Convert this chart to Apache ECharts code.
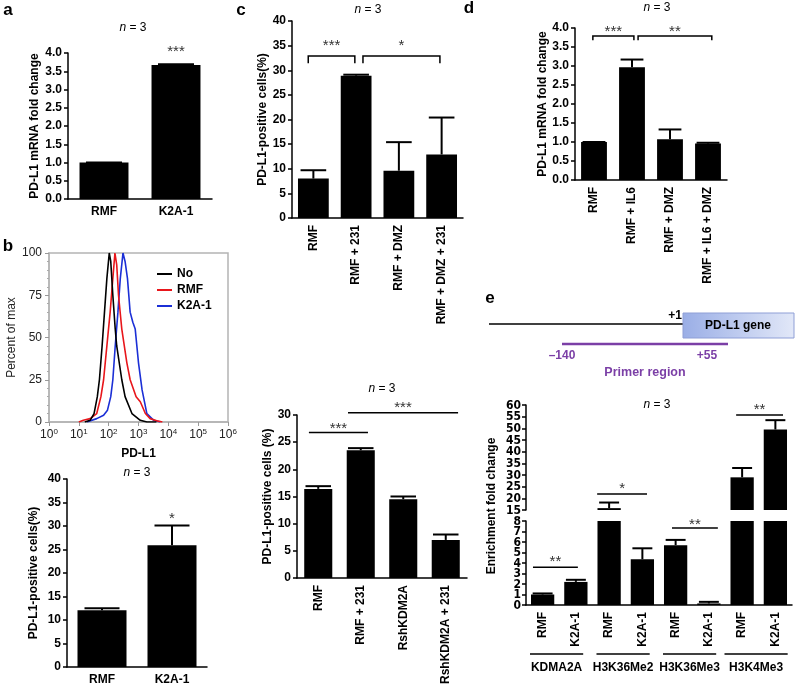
<!DOCTYPE html>
<html><head><meta charset="utf-8">
<script src="https://cdn.jsdelivr.net/npm/echarts@6/dist/echarts.min.js"></script>
<style>html,body{margin:0;padding:0;background:#fff}#c{width:799px;height:687px}</style>
</head><body><div id="c"></div>
<script>
const FONT = "'Liberation Sans', Arial, Helvetica, sans-serif";
const NARROW = "'Liberation Sans Narrow', 'DejaVu Sans Condensed', 'Liberation Sans', sans-serif";

// ---- panel a
const aCats = ['RMF', 'K2A-1'];
const aVals = [1.0, 3.67];
const aErr = [1.0, 3.69];
const aStars = [[1, 4.14, '***']];

// ---- panel b histogram (x = log10 PD-L1 intensity, y = percent of max)
const hNoX = [1.2, 1.38, 1.51, 1.62, 1.69, 1.78, 1.86, 1.94, 2.02, 2.07, 2.14, 2.22, 2.27, 2.44, 2.55, 2.78, 3.06, 3.28, 3.6];
const hNoY = [0, 1, 5, 15, 25, 45, 65, 85, 100, 95, 75, 55, 45, 25, 15, 5, 1, 0, 0];
const hRmfX = [1.0, 1.15, 1.38, 1.6, 1.74, 1.83, 1.94, 2.05, 2.14, 2.21, 2.27, 2.33, 2.44, 2.61, 2.72, 2.92, 3.06, 3.23, 3.39, 3.66, 3.8];
const hRmfY = [0, 1, 2, 5, 15, 25, 45, 65, 85, 100, 93, 75, 55, 35, 25, 15, 12, 5, 2, 0.5, 0];
const hK2aX = [1.27, 1.6, 1.83, 1.96, 2.07, 2.14, 2.22, 2.31, 2.39, 2.48, 2.55, 2.63, 2.72, 2.81, 2.89, 3.0, 3.12, 3.28, 3.51, 3.73];
const hK2aY = [0, 2, 4, 7, 15, 25, 45, 65, 85, 100, 95, 85, 65, 59, 55, 35, 19, 5, 1, 0];

// ---- panel b bars
const bCats = ['RMF', 'K2A-1'];
const bVals = [12.1, 25.9];
const bErr = [12.5, 30.1];
const bStars = [[1, 32.3, '*']];

// ---- panel c top
const cCats = ['RMF', 'RMF + 231', 'RMF + DMZ', 'RMF + DMZ + 231'];
const cVals = [8.0, 28.9, 9.6, 12.9];
const cErr = [9.7, 29.1, 15.4, 20.4];
// [from, to, level, legEnd, starLevel, label]
const cBrackets = [[-0.12, 0.97, 32.9, 31.4, 35.7, '***'], [1.16, 2.96, 32.9, 31.4, 35.7, '*']];

// ---- panel c bottom
const c2Cats = ['RMF', 'RMF + 231', 'RshKDM2A', 'RshKDM2A + 231'];
const c2Vals = [16.4, 23.5, 14.5, 7.0];
const c2Err = [16.9, 23.9, 15.0, 8.0];
const c2Lines = [[-0.22, 1.17, 26.8, null, 28.2, '***'], [0.70, 3.29, 30.4, null, 32.0, '***']];

// ---- panel d
const dCats = ['RMF', 'RMF + IL6', 'RMF + DMZ', 'RMF + IL6 + DMZ'];
const dVals = [1.0, 2.97, 1.07, 0.96];
const dErr = [1.0, 3.17, 1.33, 0.98];
const dBrackets = [[-0.03, 1.05, 3.79, 3.68, 4.0, '***'], [1.16, 3.1, 3.79, 3.68, 4.0, '**']];

// ---- panel e
const eCats = ['RMF', 'K2A-1', 'RMF', 'K2A-1', 'RMF', 'K2A-1', 'RMF', 'K2A-1'];
const eGroups = ['KDMA2A', 'H3K36Me2', 'H3K36Me3', 'H3K4Me3'];
const eVals = [1.0, 2.2, 15.8, 4.35, 5.7, 0.15, 29, 49.5];
const eErr = [1.1, 2.4, 18.2, 5.4, 6.2, 0.3, 33, 53.5];
const eUpTicks = [15, 20, 25, 30, 35, 40, 45, 50, 55, 60];
const eLowTicks = [0, 1, 2, 3, 4, 5, 6, 7, 8];
const eLinesLow = [[-0.29, 1.06, 3.6, null, 4.5, '**'], [3.89, 5.27, 7.33, null, 8.0, '**']];
const eLinesUp = [[1.64, 3.14, 21.9, null, 25.7, '*'], [5.82, 7.23, 55.7, null, 59.6, '**']];

// ---------- helpers
function xAt(api, x, y) {
  const i = Math.round(x);
  const p = api.coord([i, y]);
  const bw = api.size([1, 0])[0];
  return [p[0] + (x - i) * bw, p[1]];
}
const starStyle = { fill: '#333', font: '15px ' + FONT, align: 'center', verticalAlign: 'middle', textAlign: 'center', textVerticalAlign: 'middle' };

function catX(grid, cats, rotate, show) {
  return {
    type: 'category', gridIndex: grid, data: cats, show: show !== false,
    axisLine: { lineStyle: { color: '#000', width: 1.5 } },
    axisTick: { alignWithLabel: true, length: 4, lineStyle: { color: '#000', width: 1.5 } },
    axisLabel: { interval: 0, rotate: rotate || 0, margin: 7, color: '#000', fontFamily: FONT, fontWeight: 'bold', fontSize: 12 },
    splitLine: { show: false }
  };
}
function valY(grid, min, max, interval, name, nameGap, dec, noLabels) {
  return {
    type: 'value', gridIndex: grid, min: min, max: max, interval: interval,
    name: name || '', nameLocation: 'middle', nameGap: nameGap || 30,
    nameTextStyle: { color: '#000', fontFamily: FONT, fontWeight: 'bold', fontSize: 12 },
    axisLine: { show: true, lineStyle: { color: '#000', width: 1.5 } },
    axisTick: { show: true, length: 4, lineStyle: { color: '#000', width: 1.5 } },
    axisLabel: {
      show: !noLabels,
      margin: 6, color: '#000', fontFamily: FONT, fontWeight: 'bold', fontSize: 12,
      showMinLabel: true, showMaxLabel: true,
      formatter: v => dec ? v.toFixed(dec) : String(v)
    },
    splitLine: { show: false }
  };
}
function barSeries(xi, yi, vals, width) {
  return { type: 'bar', xAxisIndex: xi, yAxisIndex: yi, data: vals, barWidth: width, clip: true,
    itemStyle: { color: '#000' }, silent: true, z: 3 };
}
function errSeries(xi, yi, vals, errs, capFrac) {
  return {
    type: 'custom', xAxisIndex: xi, yAxisIndex: yi, clip: true, z: 5, silent: true,
    data: vals.map((v, i) => [i, v, errs[i]]),
    renderItem(params, api) {
      const i = api.value(0), v = api.value(1), e = api.value(2);
      const p0 = api.coord([i, v]), p1 = api.coord([i, e]);
      const cw = api.size([1, 0])[0] * capFrac / 2;
      return { type: 'group', children: [
        { type: 'line', shape: { x1: p0[0], y1: p0[1], x2: p1[0], y2: p1[1] }, style: { stroke: '#000', lineWidth: 2 } },
        { type: 'line', shape: { x1: p1[0] - cw, y1: p1[1], x2: p1[0] + cw, y2: p1[1] }, style: { stroke: '#000', lineWidth: 2 } }
      ] };
    }
  };
}
function sigSeries(xi, yi, list) {
  return {
    type: 'custom', xAxisIndex: xi, yAxisIndex: yi, clip: false, z: 6, silent: true,
    data: list.map((b, k) => [0, b[2]]),
    renderItem(params, api) {
      const b = list[params.dataIndex];
      const p1 = xAt(api, b[0], b[2]), p2 = xAt(api, b[1], b[2]);
      let pts;
      if (b[3] != null) {
        const ly = api.coord([0, b[3]])[1];
        pts = [[p1[0], ly], [p1[0], p1[1]], [p2[0], p2[1]], [p2[0], ly]];
      } else {
        pts = [p1, p2];
      }
      const s = xAt(api, (b[0] + b[1]) / 2, b[4]);
      return { type: 'group', children: [
        { type: 'polyline', shape: { points: pts }, style: { stroke: '#000', lineWidth: 1.5, fill: null } },
        { type: 'text', x: s[0], y: s[1] + 4, style: Object.assign({ text: b[5] }, starStyle) }
      ] };
    }
  };
}
function starSeries(xi, yi, list) {
  return {
    type: 'custom', xAxisIndex: xi, yAxisIndex: yi, clip: false, z: 6, silent: true,
    data: list.map(s => [s[0], s[1]]),
    renderItem(params, api) {
      const s = list[params.dataIndex];
      const p = api.coord([s[0], s[1]]);
      return { type: 'text', x: p[0], y: p[1] + 4, style: Object.assign({ text: s[2] }, starStyle) };
    }
  };
}
// tick labels for the crowded broken axis of panel e
function tickLabelSeries(xi, yi, ticks) {
  return {
    type: 'custom', xAxisIndex: xi, yAxisIndex: yi, clip: false, z: 6, silent: true,
    data: ticks.map(t => [0, t]),
    renderItem(params, api) {
      const p = api.coord([0, api.value(1)]);
      const bw = api.size([1, 0])[0];
      return { type: 'text', x: p[0] - bw / 2 - 5, y: p[1] + 0.5,
        style: { text: String(api.value(1)), fill: '#000', font: 'bold 12px ' + NARROW,
          align: 'right', verticalAlign: 'middle', textAlign: 'right', textVerticalAlign: 'middle' } };
    }
  };
}
function groupSeries(xi, yi, groups) {
  return {
    type: 'custom', xAxisIndex: xi, yAxisIndex: yi, clip: false, z: 6, silent: true,
    data: groups.map((g, k) => [2 * k, 0]),
    renderItem(params, api) {
      const k = params.dataIndex;
      const base = api.coord([2 * k, 0]);
      const bw = api.size([1, 0])[0];
      const cx = base[0] + 0.42 * bw;
      const hw = (k === 3 ? 0.95 : 0.8) * bw;
      return { type: 'group', children: [
        { type: 'line', shape: { x1: cx - hw, y1: base[1] + 49, x2: cx + hw, y2: base[1] + 49 }, style: { stroke: '#000', lineWidth: 1.5 } },
        { type: 'text', x: cx, y: base[1] + 63, style: { text: groups[k], fill: '#000', font: 'bold 12px ' + FONT, align: 'center', verticalAlign: 'middle', textAlign: 'center', textVerticalAlign: 'middle' } }
      ] };
    }
  };
}
function gText(x, y, text, opt) {
  opt = opt || {};
  return {
    type: 'text', x: x, y: y, rotation: opt.rotation || 0, silent: true,
    style: {
      text: text, fill: opt.color || '#000',
      font: (opt.weight || 'normal') + ' ' + (opt.size || 12) + 'px ' + (opt.family || FONT),
      align: opt.align || 'center', verticalAlign: 'middle', textAlign: opt.align || 'center', textVerticalAlign: 'middle',
      rich: opt.rich
    }
  };
}
const nRich = { i: { fontStyle: 'italic', fontSize: 12, fontFamily: FONT, fill: '#000', color: '#000' }, r: { fontSize: 12, fontFamily: FONT } };
function nText(x, y) { return gText(x, y, '{i|n}{r| = 3}', { rich: nRich }); }

const PURPLE = '#7b3fa6';

const option = {
  animation: false,
  textStyle: { fontFamily: FONT },
  grid: [
    { left: 68, top: 53, width: 144, height: 146 },               // 0 a
    { left: 49, top: 253, width: 179, height: 169, show: true, borderColor: '#b4b4b4', borderWidth: 1.5 }, // 1 b hist
    { left: 67, top: 479, width: 140, height: 188 },              // 2 b bar
    { left: 292, top: 21, width: 171, height: 197 },              // 3 c top
    { left: 297, top: 415, width: 170, height: 166 },             // 4 c bottom
    { left: 575, top: 28, width: 152, height: 152 },              // 5 d
    { left: 526, top: 405, width: 266, height: 105 },             // 6 e upper
    { left: 526, top: 521, width: 266, height: 84 }               // 7 e lower
  ],
  legend: {
    data: ['No', 'RMF', 'K2A-1'], orient: 'vertical', left: 152, top: 263, itemGap: 4,
    icon: 'rect', itemWidth: 15, itemHeight: 2,
    textStyle: { fontFamily: FONT, fontWeight: 'bold', fontSize: 12, color: '#000' }
  },
  xAxis: [
    catX(0, aCats),
    {
      type: 'value', gridIndex: 1, min: 0, max: 6, interval: 1,
      name: 'PD-L1', nameLocation: 'middle', nameGap: 26,
      nameTextStyle: { color: '#000', fontFamily: FONT, fontWeight: 'bold', fontSize: 12 },
      axisLine: { lineStyle: { color: '#b4b4b4', width: 1.5 } },
      axisTick: { length: 4, lineStyle: { color: '#999' } },
      axisLabel: {
        margin: 6, color: '#222', fontFamily: FONT, fontSize: 12,
        showMinLabel: true, showMaxLabel: true,
        formatter: v => '10{s|' + v + '}',
        rich: { s: { fontSize: 8, verticalAlign: 'top', padding: [0, 0, 6, 0], fontFamily: FONT, color: '#222' } }
      },
      splitLine: { show: false }
    },
    catX(2, bCats),
    catX(3, cCats, 90),
    catX(4, c2Cats, 90),
    catX(5, dCats, 90),
    catX(6, eCats, 0, false),
    catX(7, eCats, 90)
  ],
  yAxis: [
    valY(0, 0, 4, 0.5, 'PD-L1 mRNA fold change', 27, 1),
    {
      type: 'value', gridIndex: 1, min: 0, max: 100, interval: 25,
      name: 'Percent of max', nameLocation: 'middle', nameGap: 31,
      nameTextStyle: { color: '#222', fontFamily: FONT, fontSize: 12 },
      axisLine: { show: true, lineStyle: { color: '#b4b4b4', width: 1.5 } },
      axisTick: { show: true, length: 4, lineStyle: { color: '#999' } },
      minorTick: { show: true, splitNumber: 5, length: 2, lineStyle: { color: '#aaa' } },
      axisLabel: { margin: 7, color: '#222', fontFamily: FONT, fontSize: 12, showMinLabel: true, showMaxLabel: true },
      splitLine: { show: false }
    },
    valY(2, 0, 40, 5, 'PD-L1-positive cells(%)', 27, 0),
    valY(3, 0, 40, 5, 'PD-L1-positive cells(%)', 15, 0),
    valY(4, 0, 30, 5, 'PD-L1-positive cells (%)', 20, 0),
    valY(5, 0, 4, 0.5, 'PD-L1 mRNA fold change', 23, 1),
    valY(6, 15, 60, 5, '', 0, 0, true),
    valY(7, 0, 8, 1, '', 0, 0, true)
  ],
  series: [
    // a
    barSeries(0, 0, aVals, '68%'),
    errSeries(0, 0, aVals, aErr, 0.5),
    starSeries(0, 0, aStars),
    // b histogram
    { name: 'No', type: 'line', xAxisIndex: 1, yAxisIndex: 1, symbol: 'none', silent: true,
      data: hNoX.map((x, i) => [x, hNoY[i]]), lineStyle: { color: '#000', width: 1.6 }, itemStyle: { color: '#000' }, z: 4 },
    { name: 'RMF', type: 'line', xAxisIndex: 1, yAxisIndex: 1, symbol: 'none', silent: true,
      data: hRmfX.map((x, i) => [x, hRmfY[i]]), lineStyle: { color: '#e8161b', width: 1.6 }, itemStyle: { color: '#e8161b' }, z: 3 },
    { name: 'K2A-1', type: 'line', xAxisIndex: 1, yAxisIndex: 1, symbol: 'none', silent: true,
      data: hK2aX.map((x, i) => [x, hK2aY[i]]), lineStyle: { color: '#1b2fd6', width: 1.6 }, itemStyle: { color: '#1b2fd6' }, z: 2 },
    // b bars
    barSeries(2, 2, bVals, '70%'),
    errSeries(2, 2, bVals, bErr, 0.5),
    starSeries(2, 2, bStars),
    // c top
    barSeries(3, 3, cVals, '72%'),
    errSeries(3, 3, cVals, cErr, 0.6),
    sigSeries(3, 3, cBrackets),
    // c bottom
    barSeries(4, 4, c2Vals, '66%'),
    errSeries(4, 4, c2Vals, c2Err, 0.6),
    sigSeries(4, 4, c2Lines),
    // d
    barSeries(5, 5, dVals, '68%'),
    errSeries(5, 5, dVals, dErr, 0.6),
    sigSeries(5, 5, dBrackets),
    // e upper
    barSeries(6, 6, eVals, '70%'),
    errSeries(6, 6, eVals, eErr, 0.6),
    sigSeries(6, 6, eLinesUp),
    tickLabelSeries(6, 6, eUpTicks),
    // e lower
    barSeries(7, 7, eVals, '70%'),
    errSeries(7, 7, eVals, eErr, 0.6),
    sigSeries(7, 7, eLinesLow),
    tickLabelSeries(7, 7, eLowTicks),
    groupSeries(7, 7, eGroups)
  ],
  graphic: [
    gText(8, 10, 'a', { weight: 'bold', size: 17 }),
    gText(8, 246, 'b', { weight: 'bold', size: 17 }),
    gText(241, 10, 'c', { weight: 'bold', size: 17 }),
    gText(469, 8, 'd', { weight: 'bold', size: 17 }),
    gText(490, 298, 'e', { weight: 'bold', size: 17 }),
    nText(133, 28),
    nText(137, 473),
    nText(368, 10),
    nText(382, 389),
    nText(657, 8),
    nText(657, 405),
    gText(492, 506, 'Enrichment fold change', { weight: 'bold', rotation: Math.PI / 2 }),
    // promoter diagram
    { type: 'line', silent: true, shape: { x1: 489, y1: 324, x2: 684, y2: 324 }, style: { stroke: '#000', lineWidth: 1.5 } },
    { type: 'rect', silent: true, shape: { x: 683, y: 313, width: 111, height: 25 },
      style: { stroke: '#8f9fd6', lineWidth: 1,
        fill: new echarts.graphic.LinearGradient(0, 0, 1, 0, [{ offset: 0, color: '#9aaee6' }, { offset: 1, color: '#e2e8f8' }]) } },
    gText(738, 326, 'PD-L1 gene', { weight: 'bold' }),
    gText(675, 316, '+1', { weight: 'bold' }),
    { type: 'line', silent: true, shape: { x1: 562, y1: 344, x2: 728, y2: 344 }, style: { stroke: PURPLE, lineWidth: 2.5 } },
    gText(562, 356, '\u2013140', { weight: 'bold', color: PURPLE }),
    gText(707, 356, '+55', { weight: 'bold', color: PURPLE }),
    gText(645, 373, 'Primer region', { weight: 'bold', color: PURPLE, size: 12.5 })
  ]
};

const chart = echarts.init(document.getElementById('c'), null, { renderer: 'canvas' });
chart.setOption(option);
</script>
</body></html>
